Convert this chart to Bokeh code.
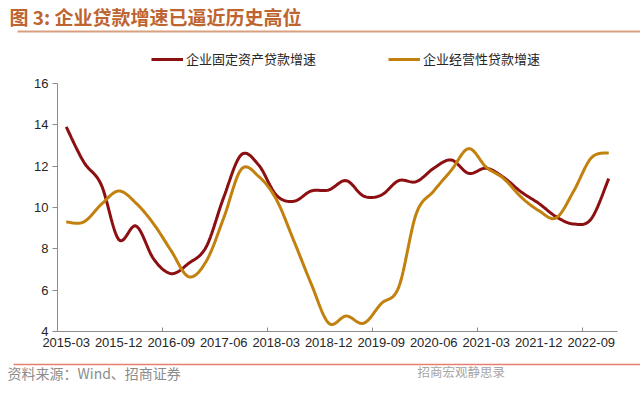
import numpy as np
from bokeh.plotting import figure
from bokeh.models import Label, Legend, LegendItem, FixedTicker, Arrow, Range1d
from bokeh.embed import file_html
from bokeh.resources import INLINE

# ---------------- data (quarterly, %) ----------------
quarters = [f"{y}-{m:02d}" for y in range(2015, 2023) for m in (3, 6, 9, 12)]
tick_labels = ["2015-03", "2015-12", "2016-09", "2017-06", "2018-03", "2018-12",
               "2019-09", "2020-06", "2021-03", "2021-12", "2022-09"]
fixed_asset = [13.9, 12.2, 11.1, 8.45, 9.1, 7.5, 6.8, 7.3, 8.1, 10.5, 12.55, 12.05,
               10.6, 10.3, 10.8, 10.85, 11.3, 10.55, 10.6, 11.3, 11.25, 11.9, 12.3, 11.65,
               11.9, 11.45, 10.75, 10.2, 9.55, 9.2, 9.45, 11.4]
operating = [9.3, 9.3, 10.15, 10.8, 10.2, 9.2, 7.9, 6.65, 7.4, 9.5, 11.85, 11.5,
             10.4, 8.4, 6.3, 4.4, 4.75, 4.4, 5.35, 6.15, 9.7, 10.8, 11.8, 12.85,
             11.95, 11.4, 10.5, 9.85, 9.5, 10.8, 12.4, 12.65]
y_ticks = [4, 6, 8, 10, 12, 14, 16]
series_names = ["企业固定资产贷款增速", "企业经营性贷款增速"]

RED = "#8C0F12"
ORANGE = "#C2810F"
AXIS = "#8C8C8C"
CJK = "Noto Sans CJK SC"

W, H = 640, 403
# plotting area on the canvas (pixels)
PX0, PX1, PY0, PY1 = 57, 617, 83, 331
XMIN, XMAX, YMIN, YMAX = -0.5, len(quarters) - 0.5, 4, 16
sx_ = (PX1 - PX0) / (XMAX - XMIN)
sy_ = (PY1 - PY0) / (YMAX - YMIN)


def dx(px):
    return XMIN + (px - PX0) / sx_


def dy(py):
    return YMIN + (PY1 - py) / sy_


def smooth(xs, ys, n=16):
    """Excel-style smoothed line (Catmull-Rom / cubic Bezier)."""
    P = np.column_stack([xs, ys]).astype(float)
    m = len(P)
    out = []
    for i in range(m - 1):
        p0 = P[max(i - 1, 0)]
        p1 = P[i]
        p2 = P[i + 1]
        p3 = P[min(i + 2, m - 1)]
        b1 = p1 + (p2 - p0) / 6.0
        b2 = p2 - (p3 - p1) / 6.0
        t = np.linspace(0, 1, n, endpoint=(i == m - 2))[:, None]
        seg = ((1 - t) ** 3) * p1 + 3 * ((1 - t) ** 2) * t * b1 + 3 * (1 - t) * t ** 2 * b2 + t ** 3 * p2
        out.append(seg)
    out = np.vstack(out)
    return out[:, 0], out[:, 1]


xidx = list(range(len(quarters)))

p = figure(width=W, height=H, output_backend="svg", toolbar_location=None,
           x_range=Range1d(dx(0), dx(W)), y_range=Range1d(dy(H), dy(0)),
           min_border_left=0, min_border_right=0, min_border_top=0, min_border_bottom=0)
p.outline_line_color = None
p.grid.visible = False
p.background_fill_color = "white"
p.border_fill_color = "white"

# axes (drawn at the edges of the chart area)
p.yaxis.fixed_location = XMIN
p.yaxis.bounds = (YMIN, YMAX)
p.yaxis.ticker = FixedTicker(ticks=y_ticks)
p.yaxis.minor_tick_line_color = None
p.yaxis.major_tick_out = 5
p.yaxis.major_tick_in = 0
p.yaxis.major_label_standoff = 4
p.yaxis.axis_line_color = AXIS
p.yaxis.major_tick_line_color = AXIS
p.yaxis.major_label_text_font = "Liberation Sans"
p.yaxis.major_label_text_font_size = "13px"
p.yaxis.major_label_text_color = "#262626"

label_pos = [quarters.index(t) for t in tick_labels]
p.xaxis.fixed_location = YMIN
p.xaxis.bounds = (XMIN, XMAX)
p.xaxis.ticker = FixedTicker(ticks=label_pos)
p.xaxis.major_label_overrides = {i: quarters[i] for i in label_pos}
p.xaxis.minor_tick_line_color = None
p.xaxis.major_tick_line_color = None
p.xaxis.major_tick_out = 0
p.xaxis.major_tick_in = 0
p.xaxis.major_label_standoff = 6
p.xaxis.axis_line_color = AXIS
p.xaxis.major_label_text_font = "Liberation Sans"
p.xaxis.major_label_text_font_size = "13px"
p.xaxis.major_label_text_color = "#262626"

# category-boundary tick marks every 6 quarters (inside)
tick_x = [i - 0.5 for i in range(6, len(quarters), 6)]
p.segment(x0=tick_x, y0=[YMIN] * len(tick_x), x1=tick_x, y1=[YMIN + 4 / sy_] * len(tick_x),
          line_color=AXIS, line_width=1)

# series
sx1, sy1 = smooth(xidx, fixed_asset)
sx2, sy2 = smooth(xidx, operating)
r1 = p.line(sx1, sy1, line_color=RED, line_width=3)
r2 = p.line(sx2, sy2, line_color=ORANGE, line_width=3)

legend = Legend(items=[LegendItem(label=series_names[0], renderers=[r1]),
                       LegendItem(label=series_names[1], renderers=[r2])],
                orientation="horizontal", location=(151, H - 68), spacing=72,
                glyph_width=32, glyph_height=16, label_standoff=3, padding=0, margin=0,
                border_line_color=None, background_fill_alpha=0,
                label_text_font=CJK, label_text_font_size="13px",
                label_text_color="#262626", label_height=16)
p.add_layout(legend, "center")

# title
p.add_layout(Label(x=dx(9), y=dy(16), text="图 3:  企业贷款增速已逼近历史高位",
                   text_font=CJK, text_font_size="19px", text_font_style="bold",
                   text_color="#BE6430", text_baseline="middle"))
p.add_layout(Arrow(end=None, start=None, x_start=dx(17), y_start=dy(31), x_end=dx(W), y_end=dy(31),
                   line_color="#D9A080", line_width=2))

# footer
p.add_layout(Arrow(end=None, start=None, x_start=dx(13), y_start=dy(364), x_end=dx(W), y_end=dy(364),
                   line_color="#E58070", line_width=1.5))
p.add_layout(Label(x=dx(7), y=dy(372), text="资料来源：Wind、招商证券",
                   text_font=CJK, text_font_size="14px", text_color="#8C8C8C",
                   text_baseline="middle"))
p.add_layout(Label(x=dx(417), y=dy(371), text="招商宏观静思录",
                   text_font=CJK, text_font_size="12.5px", text_color="#A6A6A6",
                   text_baseline="middle"))

open("out.html", "w").write(file_html(p, INLINE))
